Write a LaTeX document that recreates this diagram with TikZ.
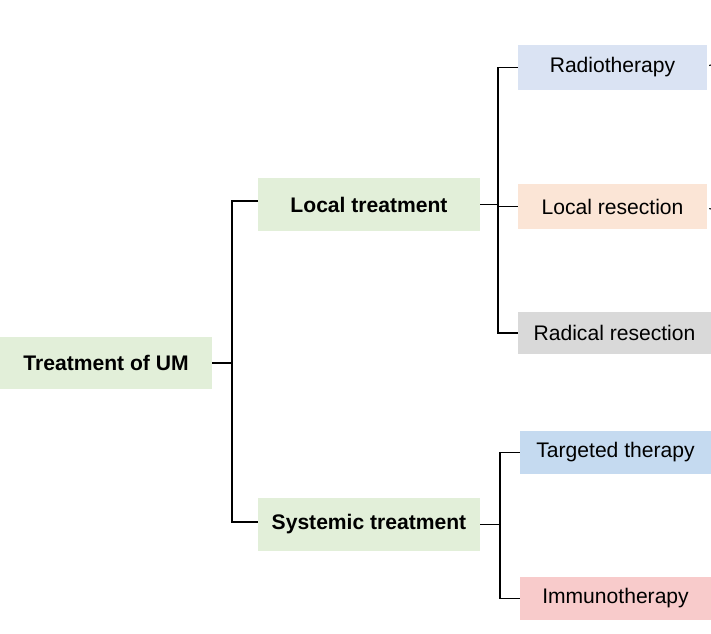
\documentclass[tikz,border=0pt]{standalone}
\usepackage{fontspec}
\setmainfont{Liberation Sans}
\usetikzlibrary{positioning,calc}
\definecolor{leafgreen}{HTML}{E2EFD9}
\definecolor{radioblue}{HTML}{DAE3F3}
\definecolor{peach}{HTML}{FBE5D6}
\definecolor{stone}{HTML}{D9D9D9}
\definecolor{skyblue}{HTML}{C5DAF0}
\definecolor{rose}{HTML}{F8CBCB}
\tikzset{
	box/.style={inner sep=0pt, font=\fontsize{18}{21}\selectfont},
	mid/.style={box, fill=leafgreen, font=\fontsize{18}{21}\selectfont\bfseries},
	link/.style={black, line width=0.9pt}
}
\begin{document}
\begin{tikzpicture}[x=0.03cm, y=-0.03cm]
	\useasboundingbox (0, 0) rectangle (711, 633);
	\clip (0, 0) rectangle (711, 633);
	\node[mid, minimum width=212*0.03cm, minimum height=52*0.03cm] (root) at (106, 363) {Treatment of UM};
	\node[mid, minimum width=222*0.03cm, minimum height=53*0.03cm] (local) at (369, 204.5) {Local treatment};
	\node[mid, minimum width=222*0.03cm, minimum height=53*0.03cm] (sys) at (369, 524.5) {Systemic treatment};
	\node[box, fill=radioblue, minimum width=189*0.03cm, minimum height=45*0.03cm] (radio) at (612.5, 67.5) {Radiotherapy};
	\node[box, fill=peach, minimum width=189*0.03cm, minimum height=45*0.03cm] (locres) at (612.5, 206.5) {Local resection};
	\node[box, fill=stone, minimum width=193*0.03cm, minimum height=42*0.03cm] (radical) at (614.5, 333) {Radical resection};
	\node[box, fill=skyblue, minimum width=191*0.03cm, minimum height=43*0.03cm] (target) at (615.5, 452.5) {Targeted therapy};
	\node[box, fill=rose, minimum width=191*0.03cm, minimum height=43*0.03cm] (immuno) at (615.5, 598.5) {Immunotherapy};
	% branch points
	\coordinate (j1) at (232, 363);
	\coordinate (j2) at (498, 204.5);
	\coordinate (j3) at (500, 524.5);
	\coordinate (l1) at (258, 201);
	\coordinate (s1) at (258, 522);
	\draw[link] (root.east) -- (j1);
	\draw[link] (l1) -| (j1 |- s1) -- (s1);
	\draw[link] (local.east) -- (j2);
	\draw[link] (radio.west) -| (j2 |- radical.west) -- (radical.west);
	\draw[link] (j2 |- locres.west) -- (locres.west);
	\draw[link] (sys.east) -- (j3);
	\draw[link] (target.west) -| (j3 |- immuno.west) -- (immuno.west);
	% stubs at the right edge
	\coordinate (e1) at (711, 65);
	\coordinate (e2) at (711, 209);
	\draw[link] (radio.east) ++(2, -2) -- (e1);
	\draw[link] (locres.east) ++(2, 2) -- (e2);
\end{tikzpicture}
\end{document}
